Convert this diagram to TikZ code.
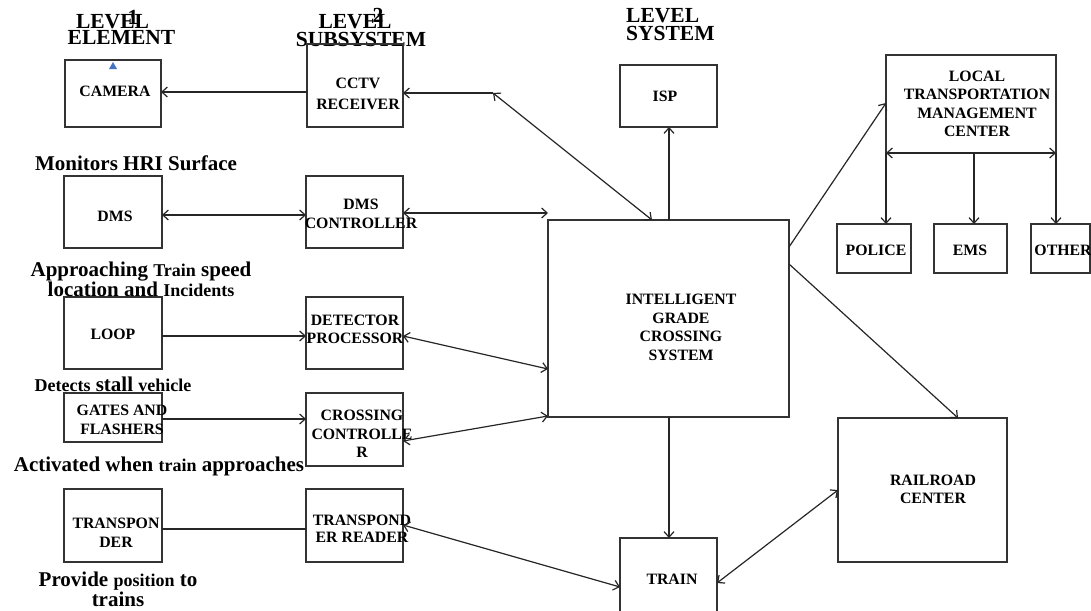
\documentclass[tikz,border=0pt]{standalone}
\usepackage{fontspec}
\setmainfont{Liberation Serif}
\usepackage{tikz}
\usetikzlibrary{arrows.meta}

\newcommand{\sm}[1]{{\fontsize{18}{18}\selectfont #1}}

\begin{document}
\begin{tikzpicture}[
        x=1pt, y=-1pt,
        box/.style={draw=black!80, line width=1.4pt, outer sep=0pt, inner sep=0pt},
        boxtext/.style={font=\fontsize{15.8}{18.5}\selectfont\bfseries, align=center, inner sep=0pt},
        head/.style={font=\fontsize{21.5}{17}\selectfont\bfseries, inner sep=0pt, anchor=base},
        note/.style={font=\fontsize{21}{17.5}\selectfont\bfseries, inner sep=0pt, align=center},
        link/.style={line width=1.2pt, draw=black!85},
        >={Straight Barb[length=5.5pt,width=10pt]}
    ]
        \useasboundingbox (0,0) rectangle (1091,610);

        % Level headings
        \node[head] (lvla) at (112.5,28.3) {LEVEL};
        \node[head] (lvlanum) at (133,25) {1};
        \node[head] (element) at (121.5,45) {ELEMENT};
        \node[head] (lvlb) at (355,28.3) {LEVEL};
        \node[head] (lvlbnum) at (378,23) {2};
        \node[head] (subsystem) at (361,46.7) {SUBSYSTEM};
        \node[head, anchor=base west] (lvlc) at (626,22.7) {LEVEL};
        \node[head, anchor=base west] (system) at (626,40.7) {SYSTEM};

        % Element level
        \node[box, minimum width=96pt, minimum height=67pt] (cam) at (113,93.5) {};
        \node[boxtext] (cam-t) at (115,91.5) {CAMERA};
        \fill[fill={rgb,255:red,68;green,114;blue,196}] (109,69) -- (117,69) -- (113,62) -- cycle;
        \node[box, minimum width=98pt, minimum height=72pt] (dms) at (113,212) {};
        \node[boxtext] (dms-t) at (115,216) {DMS};
        \node[box, minimum width=98pt, minimum height=72pt] (loop) at (113,333) {};
        \node[boxtext] (loop-t) at (113,334) {LOOP};
        \node[box, minimum width=98pt, minimum height=49pt] (gates) at (113,417.5) {};
        \node[boxtext] (gates-t) at (122,420) {GATES AND\\FLASHERS};
        \node[box, minimum width=98pt, minimum height=73pt] (trp) at (113,525.5) {};
        \node[boxtext] (trp-t) at (116,533) {TRANSPON\\DER};

        % Subsystem level
        \node[box, minimum width=96pt, minimum height=83pt] (cctv) at (355,85.5) {};
        \node[boxtext, font=\fontsize{15.8}{21}\selectfont\bfseries] (cctv-t) at (358,93.5) {CCTV\\RECEIVER};
        \node[box, minimum width=97pt, minimum height=72pt] (dmsc) at (354.5,212) {};
        \node[boxtext] (dmsc-t) at (361,213.7) {DMS\\CONTROLLER};
        \node[box, minimum width=97pt, minimum height=72pt] (det) at (354.5,333) {};
        \node[boxtext] (det-t) at (355,329.5) {DETECTOR\\PROCESSOR};
        \node[box, minimum width=97pt, minimum height=73pt] (cross) at (354.5,429.5) {};
        \node[boxtext] (cross-t) at (362,433.8) {CROSSING\\CONTROLLE\\R};
        \node[box, minimum width=97pt, minimum height=73pt] (trpr) at (354.5,525.5) {};
        \node[boxtext, font=\fontsize{15.8}{16.5}\selectfont\bfseries] (trpr-t) at (362,528.7) {TRANSPOND\\ER READER};

        % System level
        \node[box, minimum width=97pt, minimum height=62pt] (isp) at (668.5,96) {};
        \node[boxtext] (isp-t) at (665,96) {ISP};
        \node[box, minimum width=241pt, minimum height=197pt] (igcs) at (668.5,318.5) {};
        \node[boxtext] (igcs-t) at (681,327.2) {INTELLIGENT\\GRADE\\CROSSING\\SYSTEM};
        \node[box, minimum width=97pt, minimum height=84pt] (train) at (668.5,580) {};
        \node[boxtext] (train-t) at (672,579) {TRAIN};
        \node[box, minimum width=170pt, minimum height=98pt] (ltmc) at (971,104) {};
        \node[boxtext] (ltmc-t) at (977,103.7) {LOCAL\\TRANSPORTATION\\MANAGEMENT\\CENTER};
        \node[box, minimum width=74pt, minimum height=49pt] (police) at (874,248.5) {};
        \node[boxtext] (police-t) at (876,250) {POLICE};
        \node[box, minimum width=73pt, minimum height=49pt] (ems) at (970.5,248.5) {};
        \node[boxtext] (ems-t) at (970,250) {EMS};
        \node[box, minimum width=59pt, minimum height=49pt] (other) at (1060.5,248.5) {};
        \node[boxtext] (other-t) at (1063,250) {OTHER};
        \node[box, minimum width=169pt, minimum height=144pt] (rrc) at (922.5,490) {};
        \node[boxtext, font=\fontsize{15.8}{17.8}\selectfont\bfseries] (rrc-t) at (933,489.7) {RAILROAD\\CENTER};

        % Notes
        \node[note, anchor=base] (monitors) at (136,170.7) {Monitors HRI Surface};
        \node[note] (approach) at (141,279.1) {Approaching \sm{Train} speed\\location and \sm{Incidents}};
        \node[note, anchor=base] (detects) at (113,391.7) {\sm{Detects} stall \sm{vehicle}};
        \node[note, anchor=base] (activated) at (159,471.7) {Activated when \sm{train} approaches};
        \node[note] (provide) at (118,589.3) {Provide \sm{position} to\\trains};

        % Connections
        \coordinate (cctvbend) at (493,93);
        \draw[link,->] (cctv.west |- 0,92) -- (cam.east |- 0,92);
        \draw[link,->] (cctvbend) -- (cctv.east |- cctvbend);
        \draw[link,<->] (cctvbend) -- (igcs.north -| 652,0);
        \draw[link,->] (igcs.north -| 669,0) -- (isp.south -| 669,0);
        \draw[link,<->] (dms.east |- 0,215) -- (dmsc.west |- 0,215);
        \draw[link,<->] (dmsc.east |- 0,213) -- (igcs.west |- 0,213);
        \draw[link,->] (loop.east |- 0,336) -- (det.west |- 0,336);
        \draw[link,<->] (det.east |- 0,336) -- (igcs.west |- 0,369);
        \draw[link,->] (gates.east |- 0,419) -- (cross.west |- 0,419);
        \draw[link,<->] (cross.east |- 0,441) -- (igcs.west |- 0,416);
        \draw[link] (trp.east |- 0,529) -- (trpr.west |- 0,529);
        \draw[link,<->] (trpr.east |- 0,525) -- (train.west |- 0,587);
        \draw[link,->] (igcs.south -| 669,0) -- (train.north -| 669,0);
        \draw[link,<->] (train.east |- 0,583) -- (rrc.west |- 0,490);
        \draw[link,->] (igcs.east |- 0,264) -- (rrc.north -| 958,0);
        \draw[link,->] (igcs.east |- 0,247) -- (ltmc.west |- 0,103);

        % Local centre branches
        \draw[link,<->] (ltmc.south west) -- (ltmc.south east);
        \draw[link,->] (ltmc.south west) -- (police.north -| ltmc.south west);
        \draw[link,->] (ltmc.south -| 974,0) -- (ems.north -| 974,0);
        \draw[link,->] (ltmc.south east) -- (other.north -| ltmc.south east);
    \end{tikzpicture}
\end{document}
